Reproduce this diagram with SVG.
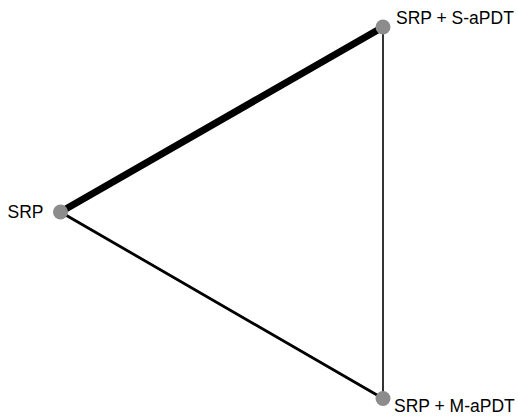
<svg xmlns="http://www.w3.org/2000/svg" width="518" height="417" viewBox="0 0 518 417">
<style>
.e{stroke:#000;stroke-linecap:round;fill:none}
.n{fill:#8c8c8c}
.t{font-family:"Liberation Sans",Arial,sans-serif;font-size:17.5px;fill:#000}
</style>
<rect width="518" height="417" fill="#fff"/>
<g id="edges">
<line class="e" x1="60.5" y1="212" x2="383" y2="27" stroke-width="7"/>
<line class="e" x1="60.5" y1="212" x2="383" y2="398.5" stroke-width="2.8"/>
<line class="e" x1="383" y1="27" x2="383" y2="398.5" stroke-width="1.6"/>
</g>
<g id="srp"><circle class="n" cx="60.5" cy="212" r="7.5"/><text class="t" x="43.5" y="217.5" text-anchor="end">SRP</text></g>
<g id="s-apdt"><circle class="n" cx="383" cy="27" r="7.5"/><text class="t" x="396" y="24">SRP + S-aPDT</text></g>
<g id="m-apdt"><circle class="n" cx="383" cy="398.5" r="7.5"/><text class="t" x="394" y="411.5">SRP + M-aPDT</text></g>
</svg>
